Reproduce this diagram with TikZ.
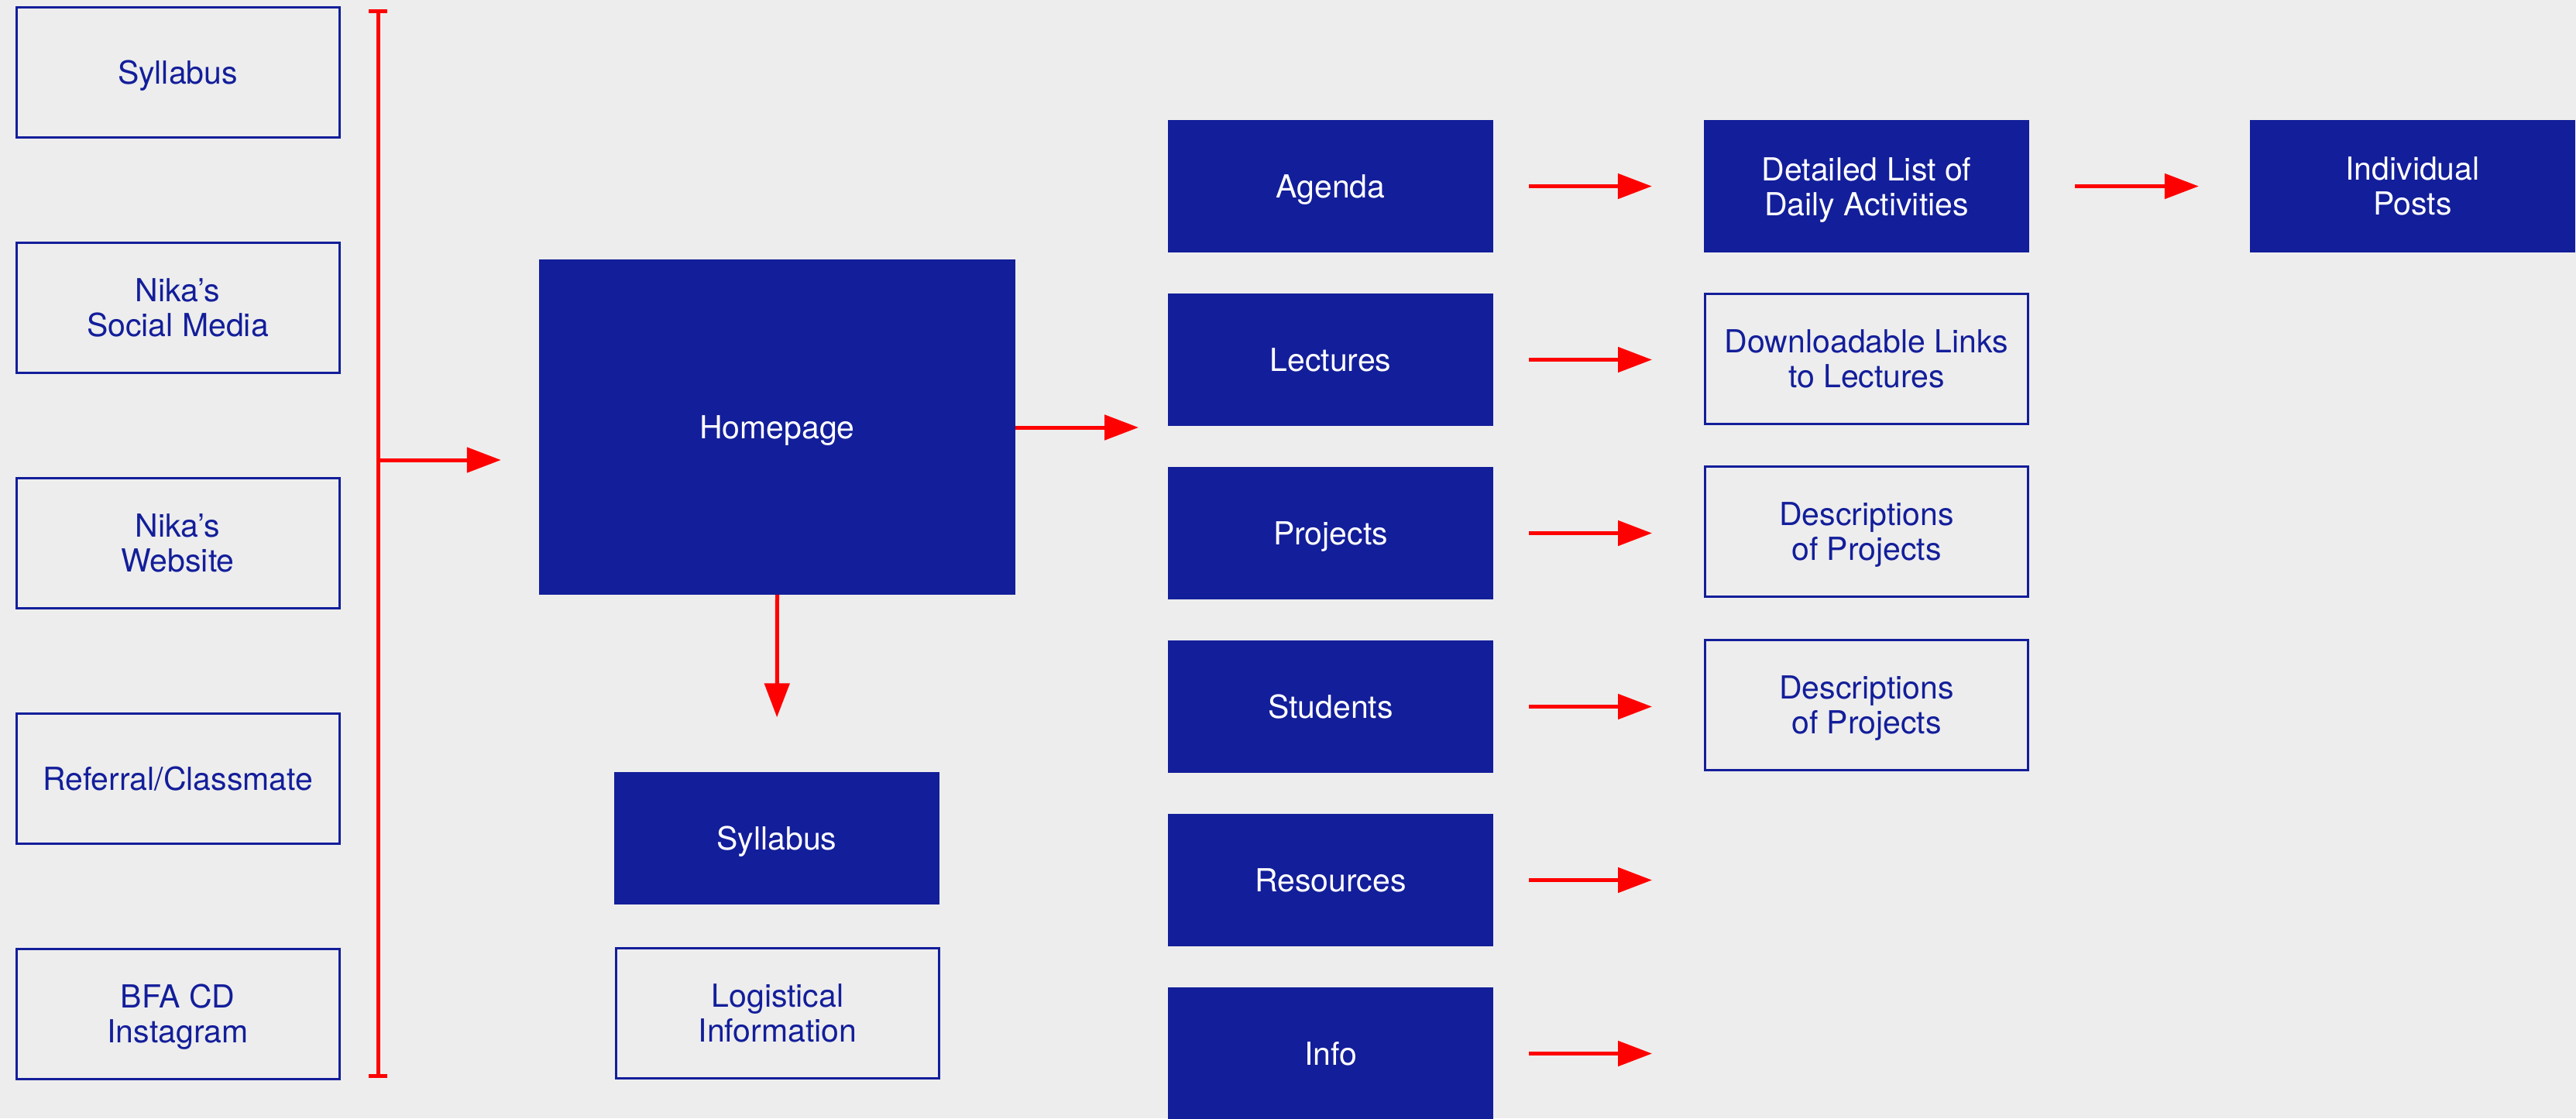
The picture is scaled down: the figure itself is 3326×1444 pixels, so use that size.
\documentclass[tikz,border=0pt]{standalone}
\usepackage{fontspec}
\setmainfont{TeX Gyre Heros}
\usetikzlibrary{arrows.meta}
\definecolor{bg}{HTML}{EDEDED}
\definecolor{navy}{HTML}{131E9A}
\definecolor{arrred}{HTML}{FF0000}
\begin{document}
\begin{tikzpicture}[x=1pt,y=-1pt,
  txt/.style={align=center,font=\fontsize{41}{45}\selectfont,inner sep=0pt,text depth=0pt},
  filledbox/.style={txt,fill=navy,text=white,minimum width=420pt,minimum height=171pt},
  outlinebox/.style={txt,draw=navy,line width=3pt,text=navy,minimum width=417pt,minimum height=168pt},
  arr/.style={draw=arrred,line width=5pt,-{Triangle[length=44pt,width=32pt]}},
  gapped/.style={shorten <=46pt,shorten >=67pt}
]
\useasboundingbox (0,0) rectangle (3326,1444);
\fill[bg] (0,0) rectangle (3326,1444);

% left sources
\node[outlinebox] (src1) at (229.5,93) {Syllabus};
\node[outlinebox] (src2) at (229.5,397) {Nika’s\\Social Media};
\node[outlinebox] (src3) at (229.5,701) {Nika’s\\Website};
\node[outlinebox] (src4) at (229.5,1005) {Referral/Classmate};
\node[outlinebox] (src5) at (229.5,1309) {BFA CD\\Instagram};

% bar
\coordinate (bartop) at (488,12);
\coordinate (barbot) at (488,1392);
\coordinate (barmid) at (488,594);
\draw[arrred,line width=5pt,{Bar[width=24pt]}-{Bar[width=24pt]}] (bartop) -- (barbot);

% homepage
\node[filledbox,minimum width=615pt,minimum height=433pt] (home) at (1003.5,551.5) {Homepage};
\node[filledbox] (syl) at (1003,1082) {Syllabus};
\node[outlinebox] (logi) at (1004,1308.5) {Logistical\\Information};

\draw[arr,shorten >=49pt] (barmid) -- (barmid -| home.west);
\coordinate (homeend) at (1470,552);
\draw[arr] (home.east |- homeend) -- (homeend);
\draw[arr,shorten >=70pt] (home.south) -- (syl.north);

% middle column
\node[filledbox] (agenda) at (1718,240.5) {Agenda};
\node[filledbox] (lectures) at (1718,464.5) {Lectures};
\node[filledbox] (projects) at (1718,688.5) {Projects};
\node[filledbox] (students) at (1718,912.5) {Students};
\node[filledbox] (resources) at (1718,1136.5) {Resources};
\node[filledbox] (info) at (1718,1360.5) {Info};

% third column
\node[filledbox] (detail) at (2410,240.5) {Detailed List of\\Daily Activities};
\node[outlinebox] (links) at (2410,463) {Downloadable Links\\to Lectures};
\node[outlinebox] (desc1) at (2410,686) {Descriptions\\of Projects};
\node[outlinebox] (desc2) at (2410,910) {Descriptions\\of Projects};
\node[filledbox] (posts) at (3115,240.5) {Individual\\Posts};

\coordinate (resend) at (2133,1136.5);
\coordinate (infoend) at (2133,1360.5);

\draw[arr,gapped] (agenda.east) -- (detail.west);
\draw[arr,gapped] (lectures.east) -- (lectures.east -| links.west);
\draw[arr,gapped] (projects.east) -- (projects.east -| desc1.west);
\draw[arr,gapped] (students.east) -- (students.east -| desc2.west);
\draw[arr,shorten <=46pt] (resources.east) -- (resend);
\draw[arr,shorten <=46pt] (info.east) -- (infoend);
\draw[arr,shorten <=59pt,shorten >=66pt] (detail.east) -- (posts.west);
\end{tikzpicture}
\end{document}
